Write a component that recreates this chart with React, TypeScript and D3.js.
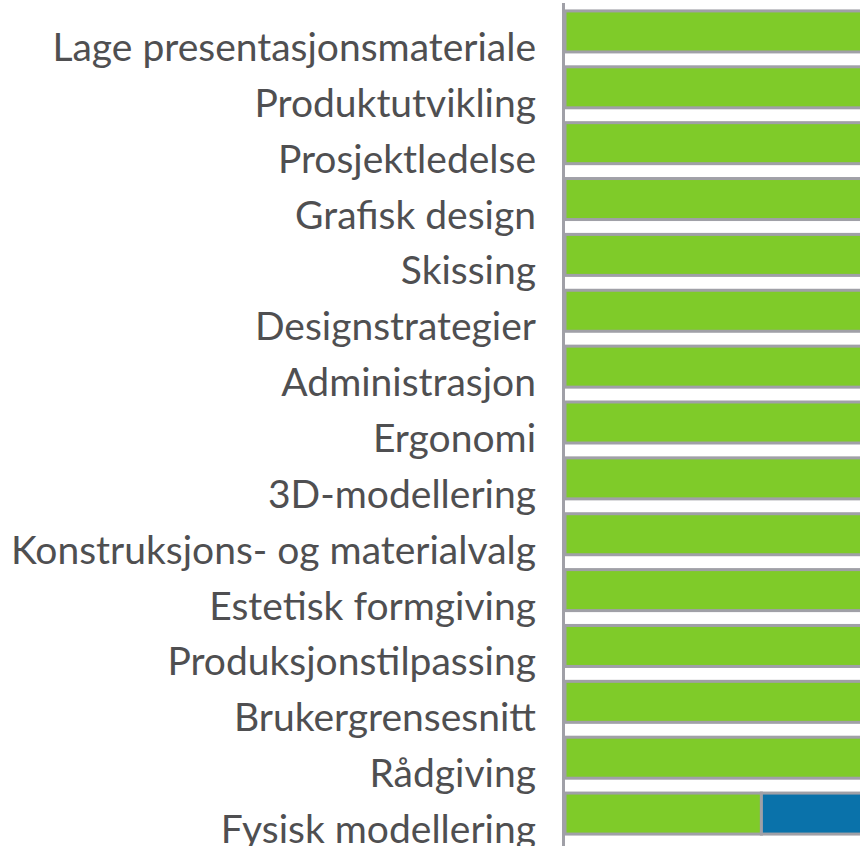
import { useEffect, useRef } from 'react';
import * as d3 from 'd3';

const categories = [
  'Lage presentasjonsmateriale',
  'Produktutvikling',
  'Prosjektledelse',
  'Grafisk design',
  'Skissing',
  'Designstrategier',
  'Administrasjon',
  'Ergonomi',
  '3D-modellering',
  'Konstruksjons- og materialvalg',
  'Estetisk formgiving',
  'Produksjonstilpassing',
  'Brukergrensesnitt',
  'Rådgiving',
  'Fysisk modellering',
];

// share of respondents per answer (green = first answer, blue = second)
const greenValues = [100, 100, 100, 100, 100, 100, 100, 100, 100, 100, 100, 100, 100, 100, 40];
const blueValues = [0, 0, 0, 0, 0, 0, 0, 0, 0, 0, 0, 0, 0, 0, 60];

const seriesKeys = ['green', 'blue'];
const seriesColors = ['#7fcb29', '#0a72aa'];

export default function App() {
  const ref = useRef<SVGSVGElement>(null);

  useEffect(() => {
    const svg = d3.select(ref.current);
    svg.selectAll('*').remove();

    const width = 860;
    const height = 846;
    svg.attr('width', width).attr('height', height);

    const rows = categories.map((c, i) => ({
      category: c,
      green: greenValues[i],
      blue: blueValues[i],
    }));

    const stacked = d3.stack<any>().keys(seriesKeys)(rows);

    const x = d3.scaleLinear().domain([0, 100]).range([565, 565 + 491]);
    const y = d3
      .scaleBand()
      .domain(categories)
      .range([3.5, 841.5])
      .paddingInner(0.266)
      .paddingOuter(0.133);

    const g = svg.append('g');

    // bars
    stacked.forEach((layer, li) => {
      g.append('g')
        .selectAll('rect')
        .data(layer.filter((d) => d[1] - d[0] > 0))
        .join('rect')
        .attr('x', (d) => x(d[0]))
        .attr('y', (d) => y(d.data.category)!)
        .attr('width', (d) => x(d[1]) - x(d[0]))
        .attr('height', y.bandwidth())
        .attr('fill', seriesColors[li])
        .attr('stroke', '#a0a0a7')
        .attr('stroke-width', 3);
    });

    // axis line
    g.append('line')
      .attr('x1', 563.5)
      .attr('x2', 563.5)
      .attr('y1', 3)
      .attr('y2', height)
      .attr('stroke', '#a0a0a7')
      .attr('stroke-width', 3);

    // labels
    g.append('g')
      .selectAll('text')
      .data(categories)
      .join('text')
      .attr('x', 536)
      .attr('y', (d) => y(d)! + y.bandwidth() / 2 + 29.5)
      .attr('text-anchor', 'end')
      .attr('fill', '#4f4f51')
      .style('font-family', 'Lato, sans-serif')
      .style('font-size', '39px')
      .text((d) => d);
  }, []);

  return (
    <div style={{ position: 'absolute', left: 0, top: 0, width: 860, height: 846, overflow: 'hidden' }}>
      <svg ref={ref} style={{ display: 'block' }}></svg>
    </div>
  );
}
